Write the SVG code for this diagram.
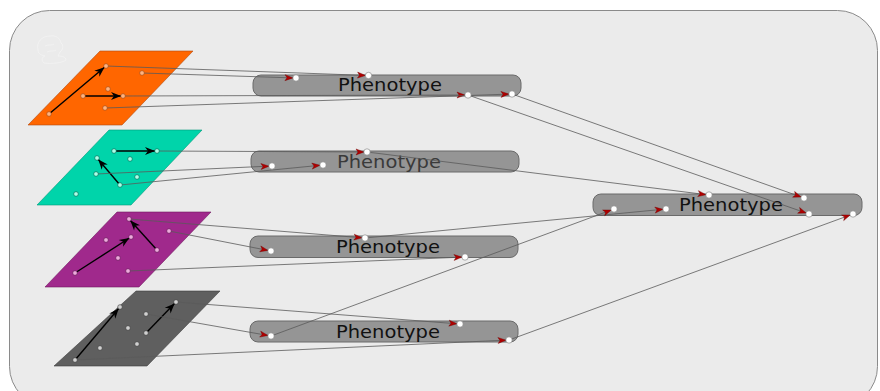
<svg xmlns="http://www.w3.org/2000/svg" width="880" height="391" viewBox="0 0 880 391">
<style>
.frame{fill:#ebebeb;stroke:#8a8a8a;stroke-width:1}
.bar{fill:#959595;stroke:#6a6a6a;stroke-width:1}
.lbl{font-family:"DejaVu Sans","Liberation Sans",sans-serif;font-size:17.5px;fill:#111}
.port{fill:#fff;stroke:#777;stroke-width:0.6}
.conn{fill:none;stroke:#5a5a5a;stroke-width:0.8}
.inner{fill:none;stroke:#000;stroke-width:1.4}
.on{fill:#ffb380;stroke:#9a4a1a;stroke-width:0.6}
.gn{fill:#aaffe8;stroke:#00604c;stroke-width:0.6}
.pn{fill:#eeaadd;stroke:#5e1a50;stroke-width:0.6}
.kn{fill:#d0d0d0;stroke:#3a3a3a;stroke-width:0.6}
</style>
<defs>
<marker id="ra" markerUnits="userSpaceOnUse" markerWidth="14" markerHeight="8" refX="11" refY="3" orient="auto" overflow="visible">
<path d="M0,0 L8,3 L0,6 L2,3 z" fill="#b00000" stroke="#700000" stroke-width="0.4"/>
</marker>
<marker id="ba" markerUnits="userSpaceOnUse" markerWidth="14" markerHeight="10" refX="12" refY="4" orient="auto" overflow="visible">
<path d="M0,0 L10,4 L0,8 L3,4 z" fill="#000"/>
</marker>
</defs>
<rect class="frame" x="9.5" y="10.5" width="868" height="396" rx="40" ry="40"/>
<g id="logo" fill="none" stroke="#fff" stroke-width="0.8" opacity="0.45">
<path d="M38,50 C36,42 42,36 50,36 C56,35 60,38 61,43 C64,45 63,50 60,52 L58,56 C62,56 66,57 66,60 C62,63 52,64 44,63 C41,60 42,57 45,56 C40,55 38,53 38,50 z"/>
<path d="M45,46 C48,44 52,46 54,44 M47,52 C50,50 54,52 56,50"/>
</g>
<g id="plane-orange">
<polygon points="100,51 193,51 122,125 28,125" fill="#ff6600" stroke="#b04a10" stroke-width="0.6"/>
<line class="inner" x1="49" y1="114" x2="106" y2="66" marker-end="url(#ba)"/>
<line class="inner" x1="83" y1="96" x2="123" y2="96" stroke-width="2" marker-end="url(#ba)"/>
</g>
<g id="plane-green">
<polygon points="109,130 202,130 131,205 37,205" fill="#00d4aa" stroke="#009978" stroke-width="0.6"/>
<line class="inner" x1="114" y1="151" x2="157" y2="151" marker-end="url(#ba)"/>
<line class="inner" x1="120" y1="185" x2="97" y2="158" marker-end="url(#ba)"/>
</g>
<g id="plane-purple">
<polygon points="117,212 211,212 139,287 45,287" fill="#a0298c" stroke="#701a60" stroke-width="0.6"/>
<line class="inner" x1="75" y1="273" x2="131" y2="237" marker-end="url(#ba)"/>
<line class="inner" x1="157" y1="250" x2="129" y2="219" marker-end="url(#ba)"/>
</g>
<g id="plane-gray">
<polygon points="136,291 220,291 147,366 54,366" fill="#5f5f5f" stroke="#3e3e3e" stroke-width="0.6"/>
<line class="inner" x1="75" y1="360" x2="120" y2="307" marker-end="url(#ba)"/>
<line class="inner" x1="146" y1="333" x2="176" y2="302" marker-end="url(#ba)"/>
</g>
<g id="phenotype-1">
<rect class="bar" x="253" y="75" width="268" height="21" rx="8"/>
<text class="lbl" x="338" y="91" textLength="104" lengthAdjust="spacingAndGlyphs">Phenotype</text>
</g>
<g id="phenotype-2">
<rect class="bar" x="251" y="151" width="268" height="21" rx="8"/>
<text class="lbl" x="337" y="168" textLength="104" lengthAdjust="spacingAndGlyphs" style="fill:#3a3a3a">Phenotype</text>
</g>
<g id="phenotype-3">
<rect class="bar" x="250" y="236" width="268" height="21.5" rx="8"/>
<text class="lbl" x="336" y="253" textLength="104" lengthAdjust="spacingAndGlyphs">Phenotype</text>
</g>
<g id="phenotype-4">
<rect class="bar" x="250" y="321" width="268" height="21" rx="8"/>
<text class="lbl" x="336" y="337.5" textLength="104" lengthAdjust="spacingAndGlyphs">Phenotype</text>
</g>
<g id="phenotype-5">
<rect class="bar" x="593" y="194" width="269" height="21.5" rx="8"/>
<text class="lbl" x="679" y="211" textLength="104" lengthAdjust="spacingAndGlyphs">Phenotype</text>
</g>
<g id="connectors" class="conn" marker-end="url(#ra)">
<line x1="106" y1="66" x2="368.5" y2="75.5"/>
<line x1="142" y1="73" x2="296" y2="78"/>
<line x1="123" y1="96" x2="468" y2="95"/>
<line x1="105" y1="108" x2="512" y2="94"/>
<line x1="157" y1="151" x2="367" y2="152"/>
<line x1="96" y1="174" x2="272" y2="166"/>
<line x1="120" y1="185" x2="323" y2="165"/>
<line x1="129" y1="219" x2="365" y2="238"/>
<line x1="169" y1="231" x2="271" y2="251"/>
<line x1="128" y1="271" x2="465" y2="257"/>
<line x1="176" y1="302" x2="460" y2="324"/>
<line x1="146" y1="314" x2="271" y2="336"/>
<line x1="75" y1="360" x2="509" y2="340"/>
<line x1="512" y1="94" x2="804" y2="198"/>
<line x1="468" y1="95" x2="809" y2="214"/>
<line x1="367" y1="152" x2="709" y2="195"/>
<line x1="365" y1="238" x2="666" y2="209"/>
<line x1="271" y1="336" x2="614" y2="209"/>
<line x1="509" y1="340" x2="853" y2="214"/>
</g>
<g id="ports-orange" class="on">
<circle cx="106" cy="66" r="2.3"/><circle cx="142" cy="73" r="2.3"/><circle cx="108" cy="89" r="2.3"/>
<circle cx="83" cy="96" r="2.3"/><circle cx="123" cy="96" r="2.3"/><circle cx="105" cy="108" r="2.3"/><circle cx="49" cy="114" r="2.3"/>
</g>
<g id="ports-green" class="gn">
<circle cx="114" cy="151" r="2.3"/><circle cx="157" cy="151" r="2.3"/><circle cx="130" cy="159" r="2.3"/>
<circle cx="97" cy="158" r="2.3"/><circle cx="96" cy="174" r="2.3"/><circle cx="137" cy="177" r="2.3"/>
<circle cx="120" cy="185" r="2.3"/><circle cx="76" cy="194" r="2.3"/>
</g>
<g id="ports-purple" class="pn">
<circle cx="129" cy="219" r="2.3"/><circle cx="169" cy="231" r="2.3"/><circle cx="106" cy="240" r="2.3"/>
<circle cx="131" cy="237" r="2.3"/><circle cx="157" cy="250" r="2.3"/><circle cx="118" cy="258" r="2.3"/>
<circle cx="128" cy="271" r="2.3"/><circle cx="75" cy="273" r="2.3"/>
</g>
<g id="ports-gray" class="kn">
<circle cx="120" cy="307" r="2.3"/><circle cx="176" cy="302" r="2.3"/><circle cx="146" cy="314" r="2.3"/>
<circle cx="128" cy="328" r="2.3"/><circle cx="146" cy="333" r="2.3"/><circle cx="100" cy="348" r="2.3"/>
<circle cx="137" cy="344" r="2.3"/><circle cx="75" cy="360" r="2.3"/>
</g>
<g id="ports-bars" class="port">
<circle cx="296" cy="78" r="3.2"/><circle cx="368.5" cy="75.5" r="3.2"/><circle cx="468" cy="95" r="3.2"/><circle cx="512" cy="94" r="3.2"/>
<circle cx="272" cy="166" r="3.2"/><circle cx="323" cy="165" r="3.2"/><circle cx="367" cy="152" r="3.2"/>
<circle cx="271" cy="251" r="3.2"/><circle cx="365" cy="238" r="3.2"/><circle cx="465" cy="257" r="3.2"/>
<circle cx="271" cy="336" r="3.2"/><circle cx="460" cy="324" r="3.2"/><circle cx="509" cy="340" r="3.2"/>
<circle cx="614" cy="209" r="3.2"/><circle cx="666" cy="209" r="3.2"/><circle cx="709" cy="195" r="3.2"/>
<circle cx="804" cy="198" r="3.2"/><circle cx="809" cy="214" r="3.2"/><circle cx="853" cy="214" r="3.2"/>
</g>
</svg>
